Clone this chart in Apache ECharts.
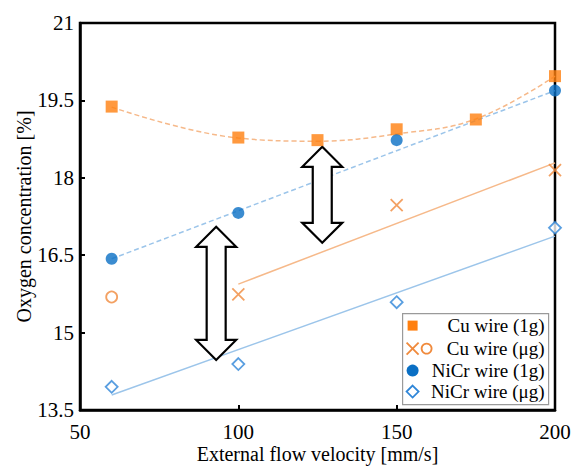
<!DOCTYPE html>
<html>
<head>
<meta charset="utf-8">
<script src="https://cdn.jsdelivr.net/npm/echarts@6/dist/echarts.min.js"></script>
<style>
html,body{margin:0;padding:0;background:#fff;}
#chart{width:573px;height:466px;}
</style>
</head>
<body>
<div id="chart"></div>
<script>
// ---- data ----
var xTicks = [50, 100, 150, 200];
var yTicks = [13.5, 15, 16.5, 18, 19.5, 21];

var cu1gX = [60, 100, 125, 150, 175, 200];
var cu1gY = [19.38, 18.78, 18.73, 18.94, 19.13, 19.97];
var cu1gFitX = [60, 100, 125, 150, 175, 200];
var cu1gFitY = [19.37, 18.77, 18.71, 18.85, 19.14, 19.97];

var nicr1gX = [60, 100, 150, 200];
var nicr1gY = [16.43, 17.32, 18.73, 19.69];
var nicr1gFitX = [60, 200];
var nicr1gFitY = [16.43, 19.69];

var cuUgCircleX = [60];
var cuUgCircleY = [15.69];
var cuUgCrossX = [100, 150, 200];
var cuUgCrossY = [15.74, 17.47, 18.15];
var cuUgFitX = [100, 200];
var cuUgFitY = [15.94, 18.29];

var nicrUgX = [60, 100, 150, 200];
var nicrUgY = [13.95, 14.39, 15.59, 17.03];
var nicrUgFitX = [60, 200];
var nicrUgFitY = [13.79, 16.87];

// double-headed arrows: [x, yTop, yBottom]
var arrows = [[93, 17.05, 14.47], [126.5, 18.6, 16.74]];

var legendLabels = ['Cu wire (1g)', 'Cu wire (\u03bcg)', 'NiCr wire (1g)', 'NiCr wire (\u03bcg)'];

// ---- colours ----
var cOrange = '#ff7f0f';
var cOrangeLight = '#f08a3c';
var cOrangeLine = '#f6b98a';
var cBlue = '#0a6fc4';
var cBlueLight = '#2f86d8';
var cBlueLine = '#9cc5ea';
var FONT = '"Liberation Serif", "Times New Roman", serif';

function zip(xs, ys) { return xs.map(function (x, i) { return [x, ys[i]]; }); }

var crossPath = 'path://M0,0L10,10M10,0L0,10';

var chart = echarts.init(document.getElementById('chart'), null, { renderer: 'svg' });

var legendX = 402, legendY = 313;
var rowY = [12, 35, 57, 78];

var option = {
  animation: false,
  backgroundColor: '#fff',
  grid: { left: 80, right: 18, top: 23, bottom: 56, containLabel: false, outerBoundsMode: 'none',
          show: true, borderColor: '#000', borderWidth: 2.5, backgroundColor: 'transparent' },
  xAxis: {
    type: 'value',
    min: xTicks[0], max: xTicks[xTicks.length - 1], interval: xTicks[1] - xTicks[0],
    name: 'External flow velocity [mm/s]',
    nameLocation: 'middle', nameGap: 33, nameMoveOverlap: false,
    nameTextStyle: { fontFamily: FONT, fontSize: 20, color: '#000', lineHeight: 21 },
    axisLine: { lineStyle: { color: '#000', width: 2.5 } },
    axisTick: { inside: true, length: 5, lineStyle: { color: '#000', width: 2 } },
    splitLine: { show: false },
    axisLabel: { fontFamily: FONT, fontSize: 21, color: '#000', margin: 11 }
  },
  yAxis: {
    type: 'value',
    min: yTicks[0], max: yTicks[yTicks.length - 1], interval: yTicks[1] - yTicks[0],
    name: 'Oxygen concentration [%]',
    nameLocation: 'middle', nameGap: 46, nameMoveOverlap: false,
    nameTextStyle: { fontFamily: FONT, fontSize: 20, color: '#000' },
    axisLine: { lineStyle: { color: '#000', width: 2.5 } },
    axisTick: { inside: true, length: 5, lineStyle: { color: '#000', width: 2 } },
    splitLine: { show: false },
    axisLabel: { fontFamily: FONT, fontSize: 21, color: '#000', margin: 6 }
  },
  series: [
    { type: 'line', data: zip(cu1gFitX, cu1gFitY), smooth: 0.4, symbol: 'none', z: 2,
      lineStyle: { color: cOrangeLine, width: 1.5, type: [5, 3] } },
    { type: 'line', data: zip(nicr1gFitX, nicr1gFitY), symbol: 'none', z: 2,
      lineStyle: { color: cBlueLine, width: 1.5, type: [5, 3] } },
    { type: 'line', data: zip(cuUgFitX, cuUgFitY), symbol: 'none', z: 2,
      lineStyle: { color: cOrangeLine, width: 1.5 } },
    { type: 'line', data: zip(nicrUgFitX, nicrUgFitY), symbol: 'none', z: 2,
      lineStyle: { color: cBlueLine, width: 1.5 } },
    { type: 'custom', z: 3,
      renderItem: function (params, api) {
        var t = api.coord([api.value(0), api.value(1)]);
        var b = api.coord([api.value(0), api.value(2)]);
        var cx = t[0], ty = t[1], by = b[1];
        var hw = 20, sw = 9.5, hh = 20;
        return {
          type: 'polygon',
          shape: { points: [
            [cx, ty], [cx + hw, ty + hh], [cx + sw, ty + hh], [cx + sw, by - hh], [cx + hw, by - hh],
            [cx, by], [cx - hw, by - hh], [cx - sw, by - hh], [cx - sw, ty + hh], [cx - hw, ty + hh]
          ] },
          style: { fill: '#fff', stroke: '#000', lineWidth: 2.2, lineJoin: 'miter' }
        };
      },
      data: arrows
    },
    { name: legendLabels[0], type: 'scatter', data: zip(cu1gX, cu1gY), symbol: 'rect', symbolSize: 12, z: 5,
      itemStyle: { color: cOrange } },
    { name: legendLabels[2], type: 'scatter', data: zip(nicr1gX, nicr1gY), symbol: 'circle', symbolSize: 12, z: 5,
      itemStyle: { color: cBlue } },
    { name: legendLabels[1], type: 'scatter', data: zip(cuUgCircleX, cuUgCircleY), symbol: 'circle', symbolSize: 11, z: 5,
      itemStyle: { color: '#fff', borderColor: cOrangeLight, borderWidth: 1.8 } },
    { name: legendLabels[1] + ' ', type: 'scatter', data: zip(cuUgCrossX, cuUgCrossY), symbol: crossPath, symbolSize: 12, z: 5,
      itemStyle: { color: 'none', borderColor: cOrangeLight, borderWidth: 1.8 } },
    { name: legendLabels[3], type: 'scatter', data: zip(nicrUgX, nicrUgY), symbol: 'diamond', symbolSize: 12, z: 5,
      itemStyle: { color: '#fff', borderColor: cBlueLight, borderWidth: 1.8 } }
  ],
  graphic: [{
    type: 'group', left: legendX, top: legendY, z: 100,
    children: [
      { type: 'rect', shape: { x: 0, y: 0, width: 146, height: 91 }, style: { fill: '#fff', stroke: '#9a9a9a', lineWidth: 1.2 } },
      { type: 'rect', shape: { x: 5, y: rowY[0] - 5, width: 10, height: 10 }, style: { fill: cOrange } },
      { type: 'polyline', shape: { points: [[4, rowY[1] - 6], [16, rowY[1] + 6]] }, style: { stroke: cOrangeLight, lineWidth: 1.8 } },
      { type: 'polyline', shape: { points: [[16, rowY[1] - 6], [4, rowY[1] + 6]] }, style: { stroke: cOrangeLight, lineWidth: 1.8 } },
      { type: 'circle', shape: { cx: 24, cy: rowY[1], r: 5 }, style: { fill: '#fff', stroke: cOrangeLight, lineWidth: 1.8 } },
      { type: 'circle', shape: { cx: 10, cy: rowY[2], r: 6 }, style: { fill: cBlue } },
      { type: 'polygon', shape: { points: [[10, rowY[3] - 6], [16, rowY[3]], [10, rowY[3] + 6], [4, rowY[3]]] }, style: { fill: '#fff', stroke: cBlueLight, lineWidth: 1.8 } },
      { type: 'text', style: { x: 142, y: rowY[0], text: legendLabels[0], textAlign: 'right', textVerticalAlign: 'middle', fontFamily: FONT, fontSize: 19, fill: '#000' } },
      { type: 'text', style: { x: 142, y: rowY[1], text: legendLabels[1], textAlign: 'right', textVerticalAlign: 'middle', fontFamily: FONT, fontSize: 19, fill: '#000' } },
      { type: 'text', style: { x: 142, y: rowY[2], text: legendLabels[2], textAlign: 'right', textVerticalAlign: 'middle', fontFamily: FONT, fontSize: 19, fill: '#000' } },
      { type: 'text', style: { x: 142, y: rowY[3], text: legendLabels[3], textAlign: 'right', textVerticalAlign: 'middle', fontFamily: FONT, fontSize: 19, fill: '#000' } }
    ]
  }]
};
chart.setOption(option);
</script>
</body>
</html>
